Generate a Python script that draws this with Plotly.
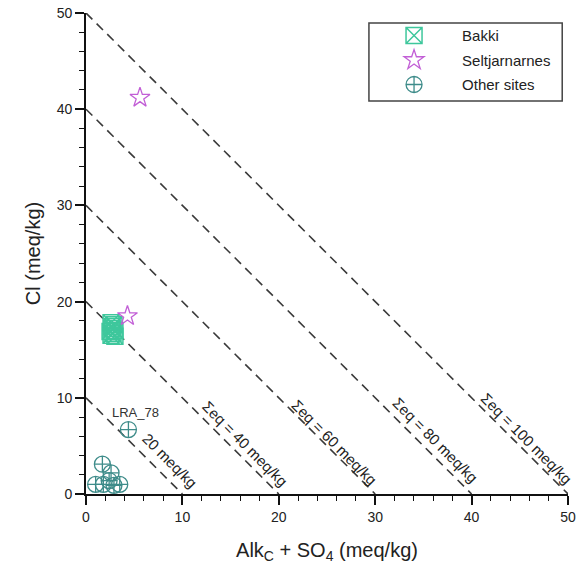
import plotly.graph_objects as go

# ---- data ----
bakki_x = [2.6, 2.9, 2.7, 3.0, 2.5, 2.8, 2.6, 3.0, 2.7]
bakki_y = [17.8, 17.6, 17.2, 17.0, 16.9, 16.7, 16.5, 16.4, 17.4]

selt_x = [4.3, 5.6]
selt_y = [18.5, 41.2]

other_x = [4.4, 1.7, 2.6, 1.0, 1.8, 2.4, 3.5, 2.9]
other_y = [6.7, 3.1, 2.2, 1.0, 1.0, 1.4, 1.0, 0.9]
other_labels = ["LRA_78", "", "", "", "", "", "", ""]

sum_eq = [20, 40, 60, 80, 100]          # Σeq (meq/kg)
sum_labels = ["20 meq/kg", "Σeq = 40 meq/kg", "Σeq = 60 meq/kg",
              "Σeq = 80 meq/kg", "Σeq = 100 meq/kg"]

tick_vals = [0, 10, 20, 30, 40, 50]

FONT = "Liberation Sans, Arial, sans-serif"
C_BAKKI = "#3ec79c"
C_SELT = "#c25fd6"
C_OTHER = "#3e8c8a"

fig = go.Figure()

# iso-sum lines: Alk+SO4 + Cl = Σeq/2
for s in sum_eq:
    h = s / 2
    fig.add_trace(go.Scatter(x=[0, h], y=[h, 0], mode="lines",
                             line=dict(color="#3a3a3a", width=1.6, dash="9px,6px"),
                             showlegend=False, hoverinfo="skip"))

fig.add_trace(go.Scatter(x=bakki_x, y=bakki_y, mode="markers", name="Bakki",
                         legendgroup="a",
                         marker=dict(symbol="square-x-open", size=16, color=C_BAKKI,
                                     line=dict(width=1.5, color=C_BAKKI))))
fig.add_trace(go.Scatter(x=selt_x, y=selt_y, mode="markers", name="Seltjarnarnes",
                         legendgroup="b",
                         marker=dict(symbol="star-open", size=15, color=C_SELT,
                                     line=dict(width=1.3, color=C_SELT))))
fig.add_trace(go.Scatter(x=other_x, y=other_y, mode="markers", name="Other sites",
                         legendgroup="c",
                         marker=dict(symbol="circle-cross-open", size=16, color=C_OTHER,
                                     line=dict(width=1.3, color=C_OTHER))))

annotations = []
# line labels, placed a little above/right of each line
offsets = [(8.7, 3.5), (16.5, 5.3), (25.8, 5.4), (36.3, 5.6), (45.7, 5.8)]
for (lx, ly), txt in zip(offsets, sum_labels):
    annotations.append(dict(x=lx, y=ly, text=txt, showarrow=False, textangle=45,
                            font=dict(family=FONT, size=15, color="#222")))
for x, y, t in zip(other_x, other_y, other_labels):
    if t:
        annotations.append(dict(x=x + 0.7, y=y + 1.8, text=t, showarrow=False,
                                font=dict(family=FONT, size=13, color="#333")))

fig.update_layout(
    width=582, height=575,
    margin=dict(l=86, r=14, t=13, b=81, autoexpand=False),
    paper_bgcolor="white", plot_bgcolor="white",
    font=dict(family=FONT, color="#222"),
    annotations=annotations,
    legend=dict(x=0.581, y=0.987, xanchor="left", yanchor="top",
                bgcolor="rgba(0,0,0,0)", borderwidth=0,
                font=dict(family=FONT, size=15, color="#222"),
                traceorder="grouped", tracegroupgap=2, itemwidth=86),
    shapes=[dict(type="rect", xref="paper", yref="paper",
                 x0=0.587, x1=0.988, y0=0.817, y1=0.979,
                 line=dict(color="#444", width=1.5), fillcolor="rgba(0,0,0,0)")],
)

axis_common = dict(range=[0, 50], tickvals=tick_vals, showgrid=False, zeroline=False,
                   showline=True, linecolor="#111", linewidth=1.6,
                   ticks="outside", ticklen=9, tickwidth=1.6, tickcolor="#111",
                   minor=dict(dtick=2, ticks="outside", ticklen=5, tickwidth=1.4,
                              tickcolor="#111", showgrid=False),
                   tickfont=dict(family=FONT, size=14, color="#222"))

fig.update_xaxes(**axis_common,
                 title=dict(text="Alk<sub>C</sub> + SO<sub>4</sub> (meq/kg)",
                            font=dict(family=FONT, size=20, color="#222"), standoff=19))
fig.update_yaxes(**axis_common,
                 title=dict(text="Cl (meq/kg)",
                            font=dict(family=FONT, size=20, color="#222"), standoff=11))

fig.update_traces(cliponaxis=False, selector=dict(mode="markers"))

fig.write_html("out.html")
